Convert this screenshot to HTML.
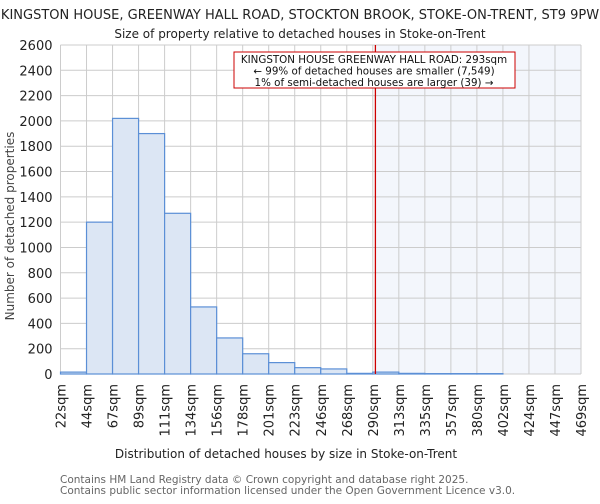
<!DOCTYPE html>
<html><head><meta charset="utf-8"><style>
body{margin:0;background:#fff;font-family:"DejaVu Sans","Liberation Sans",sans-serif;}
svg text{font-family:"DejaVu Sans","Liberation Sans",sans-serif;}
</style></head><body>
<svg id="chart" width="600" height="500" xmlns="http://www.w3.org/2000/svg">
<text x="300" y="19" text-anchor="middle" font-size="13" fill="#222">KINGSTON HOUSE, GREENWAY HALL ROAD, STOCKTON BROOK, STOKE-ON-TRENT, ST9 9PW</text>
<text x="300" y="38" text-anchor="middle" font-size="12" fill="#222">Size of property relative to detached houses in Stoke-on-Trent</text>
<g id="plot"></g>
<text x="286" y="458" text-anchor="middle" font-size="12" fill="#222">Distribution of detached houses by size in Stoke-on-Trent</text>
<text transform="translate(14,226) rotate(-90)" text-anchor="middle" font-size="12" fill="#444">Number of detached properties</text>
<text x="60" y="483" font-size="10.5" fill="#666">Contains HM Land Registry data © Crown copyright and database right 2025.</text>
<text x="60" y="494" font-size="10.5" fill="#666">Contains public sector information licensed under the Open Government Licence v3.0.</text>
</svg>
<script>
const categories=["22sqm","44sqm","67sqm","89sqm","111sqm","134sqm","156sqm","178sqm","201sqm","223sqm","246sqm","268sqm","290sqm","313sqm","335sqm","357sqm","380sqm","402sqm","424sqm","447sqm","469sqm"];
const counts=[15,1200,2020,1900,1270,530,285,160,90,50,40,5,15,5,3,3,3,0,0,0];
const yTicks=[0,200,400,600,800,1000,1200,1400,1600,1800,2000,2200,2400,2600];
const markerBin=12.1;
const ns="http://www.w3.org/2000/svg";
const L=60.5,R=581,T=45,B=374,yMax=2600;
const bw=(R-L)/counts.length;
const xs=i=>L+i*bw;
const ys=v=>B-(v/yMax)*(B-T);
const g=document.getElementById('plot');
function mk(tag,at){const e=document.createElementNS(ns,tag);for(const k in at)e.setAttribute(k,at[k]);g.appendChild(e);return e;}
const mx=xs(markerBin);
const sh=mk('rect',{x:mx,y:T,width:R-mx,height:B-T,fill:'#f3f6fc'});


yTicks.forEach(v=>{
 const l=mk('line',{x1:L,x2:R,y1:ys(v),y2:ys(v),stroke:'#cccccc','stroke-width':1});
 
 
 const t=mk('text',{x:L-8,y:ys(v)+5,'text-anchor':'end','font-size':13,fill:'#222'});
 t.textContent=v;
 
 
});
categories.forEach((c,i)=>{
 const l=mk('line',{x1:xs(i),x2:xs(i),y1:T,y2:B,stroke:'#cccccc','stroke-width':1});
 
 
 const t=mk('text',{transform:`translate(${xs(i)+5},${B+10}) rotate(-90)`,'text-anchor':'end','font-size':13,fill:'#222'});
 t.textContent=c;
 
 
});
counts.forEach((v,i)=>{
 const r=mk('rect',{x:xs(i),y:ys(v),width:bw,height:B-ys(v),fill:'#dce6f4',stroke:'#5b8fd6','stroke-width':1.2});
 
 
});
const ml=mk('line',{x1:mx,x2:mx,y1:T,y2:B,stroke:'#cc0000','stroke-width':1.3});


const bx=mk('rect',{x:234,y:52,width:281,height:36,fill:'#fff',stroke:'#cc0000','stroke-width':1});


["KINGSTON HOUSE GREENWAY HALL ROAD: 293sqm","← 99% of detached houses are smaller (7,549)","1% of semi-detached houses are larger (39) →"].forEach((s,i)=>{
 const t=mk('text',{x:374,y:63+i*11.5,'text-anchor':'middle','font-size':10.3,fill:'#111'});
 t.textContent=s;
 
 
});
</script>
</body></html>
